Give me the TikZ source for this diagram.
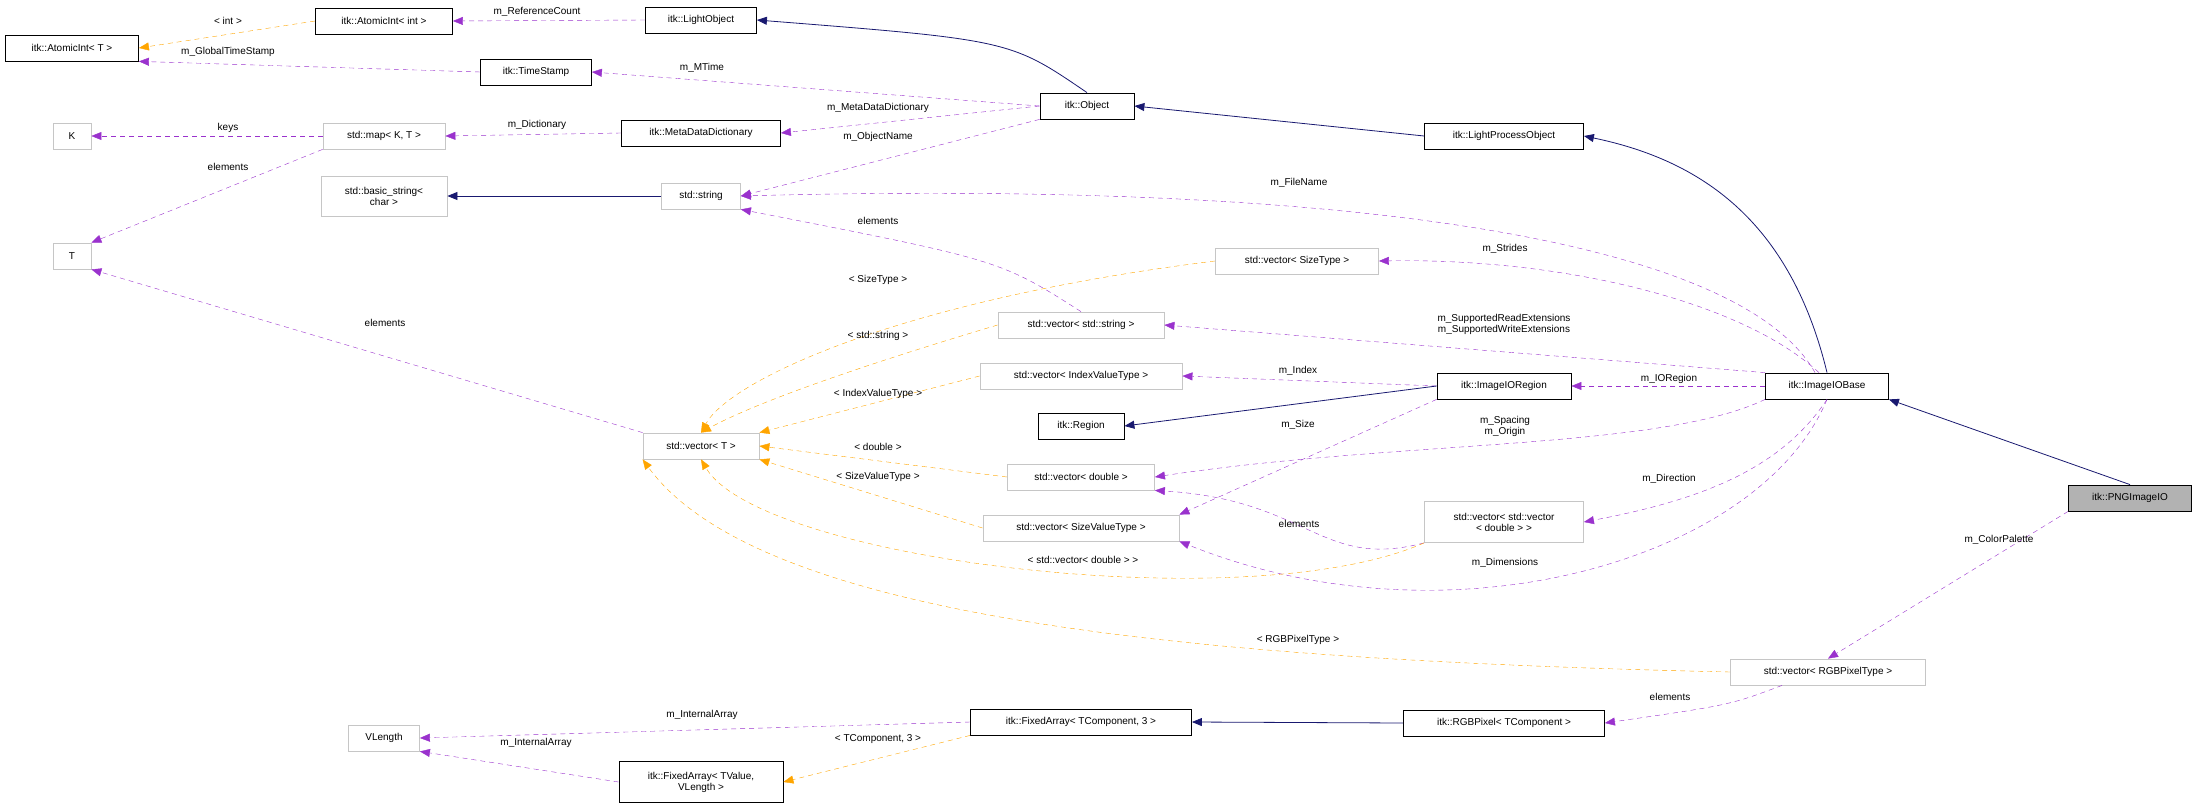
\documentclass[tikz,border=0pt]{standalone}
\usepackage{fontspec}
\setmainfont{Liberation Sans}
\usepackage{xcolor}
\usetikzlibrary{arrows.meta}
\definecolor{edgepurple}{HTML}{9A32CD}
\definecolor{edgeorange}{HTML}{FFA500}
\definecolor{edgenavy}{HTML}{191970}
\begin{document}
\begin{tikzpicture}[x=1pt,y=-1pt]
        % Define styles
        \tikzset{
            cls/.style={rectangle, draw=black, thick, fill=white, inner sep=2pt, minimum height=26pt, font=\fontsize{10}{11}\selectfont, align=center},
            ext/.style={cls, draw=gray!45},
            usage/.style={draw=edgepurple, dashed, dash pattern=on 5pt off 4pt, -{Triangle[length=10pt,width=8pt]}},
            templ/.style={draw=edgeorange, dashed, dash pattern=on 5pt off 4pt, -{Triangle[length=10pt,width=8pt]}},
            inherit/.style={draw=edgenavy, thick, -{Triangle[length=10pt,width=8pt]}},
            lbl/.style={font=\fontsize{10}{11}\selectfont, align=center, inner sep=1pt}
        }
        \useasboundingbox (0,0) rectangle (2197,808);

        % Nodes
        \node[cls, minimum width=133pt] (atomic_t) at (72,48) {itk::AtomicInt< T >};
        \node[cls, minimum width=137pt] (atomic_int) at (384,21) {itk::AtomicInt< int >};
        \node[cls, minimum width=111pt] (light_object) at (701,20) {itk::LightObject};
        \node[cls, minimum width=111pt] (time_stamp) at (536,72) {itk::TimeStamp};
        \node[cls, minimum width=94pt] (object) at (1087,106) {itk::Object};
        \node[cls, minimum width=159pt] (meta_dict) at (701,133) {itk::MetaDataDictionary};
        \node[ext, minimum width=38pt] (k_node) at (72,136) {K};
        \node[ext, minimum width=122pt] (std_map) at (384,136) {std::map< K, T >};
        \node[ext, minimum width=126pt, minimum height=40pt] (basic_string) at (384,196) {std::basic\_string<\\char >};
        \node[ext, minimum width=79pt] (std_string) at (701,196) {std::string};
        \node[ext, minimum width=38pt] (t_node) at (72,256) {T};
        \node[cls, minimum width=159pt] (light_process) at (1504,136) {itk::LightProcessObject};
        \node[ext, minimum width=163pt] (vec_size) at (1297,261) {std::vector< SizeType >};
        \node[ext, minimum width=166pt] (vec_string) at (1081,325) {std::vector< std::string >};
        \node[ext, minimum width=202pt] (vec_index) at (1081,376) {std::vector< IndexValueType >};
        \node[cls, minimum width=134pt] (io_region) at (1504,386) {itk::ImageIORegion};
        \node[cls, minimum width=123pt] (io_base) at (1827,386) {itk::ImageIOBase};
        \node[cls, minimum width=86pt] (region) at (1081,426) {itk::Region};
        \node[ext, minimum width=116pt] (vec_t) at (701,446) {std::vector< T >};
        \node[ext, minimum width=147pt] (vec_double) at (1081,477) {std::vector< double >};
        \node[ext, minimum width=196pt] (vec_size_value) at (1081,528) {std::vector< SizeValueType >};
        \node[ext, minimum width=159pt, minimum height=41pt] (vec_vec) at (1504,522) {std::vector< std::vector\\< double > >};
        \node[cls, minimum width=123pt, fill=gray!60] (png_io) at (2130,498) {itk::PNGImageIO};
        \node[ext, minimum width=195pt] (vec_rgb) at (1828,672) {std::vector< RGBPixelType >};
        \node[ext, minimum width=71pt] (vlength) at (384,738) {VLength};
        \node[cls, minimum width=221pt] (fixed_comp) at (1081,722) {itk::FixedArray< TComponent, 3 >};
        \node[cls, minimum width=201pt] (rgb_pixel) at (1504,723) {itk::RGBPixel< TComponent >};
        \node[cls, minimum width=164pt, minimum height=41pt] (fixed_value) at (701,782) {itk::FixedArray< TValue,\\VLength >};

        % Arrows
        \draw[templ] (atomic_int.west) -- (atomic_t.east);
        \draw[usage] (light_object.west) -- (atomic_int.east);
        \draw[usage] (time_stamp.west) -- (atomic_t.south east);
        \draw[inherit] (object.north) .. controls (1010,40) .. (light_object.east);
        \draw[usage] (object.west) -- (time_stamp.east);
        \draw[usage] (object.west) -- (meta_dict.east);
        \draw[usage] (object.south west) -- (std_string.east);
        \draw[usage] (meta_dict.west) -- (std_map.east);
        \draw[usage] (std_map.west) -- (k_node.east);
        \draw[usage] (std_map.south west) -- (t_node.north east);
        \draw[inherit] (std_string.west) -- (basic_string.east);
        \draw[usage] (vec_string.north) .. controls (1000,260) .. (std_string.south east);
        \draw[usage] (vec_t.north west) -- (t_node.south east);
        \draw[inherit] (light_process.west) -- (object.east);
        \draw[inherit] (io_base.north) .. controls (1790,220) and (1700,160) .. (light_process.east);
        \draw[usage] ([xshift=-12pt]io_base.north) .. controls (1740,240) and (1350,180) .. (std_string.east);
        \draw[usage] ([xshift=-8pt]io_base.north) .. controls (1740,300) and (1560,258) .. (vec_size.east);
        \draw[usage] (io_base.north west) -- (vec_string.east);
        \draw[usage] (io_region.west) -- (vec_index.east);
        \draw[inherit] (io_region.west) -- (region.east);
        \draw[usage] (io_base.west) -- (io_region.east);
        \draw[usage] (io_base.south west) .. controls (1660,450) and (1400,440) .. (vec_double.east);
        \draw[usage] (io_region.south west) -- (vec_size_value.north east);
        \draw[usage] (io_base.south) .. controls (1780,470) and (1700,500) .. (vec_vec.east);
        \draw[usage] (vec_vec.south west) .. controls (1320,570) and (1310,500) .. (vec_double.south east);
        \draw[usage] (io_base.south) .. controls (1760,560) and (1450,650) .. (vec_size_value.south east);
        \draw[inherit] (png_io.north) -- (io_base.south east);
        \draw[usage] (png_io.south west) -- (vec_rgb.north);
        \draw[templ] (vec_rgb.west) .. controls (1200,660) and (760,620) .. (vec_t.south west);
        \draw[templ] (vec_size.west) .. controls (900,300) and (730,380) .. (vec_t.north);
        \draw[templ] (vec_string.west) .. controls (880,360) and (760,400) .. (vec_t.north);
        \draw[templ] (vec_index.west) -- (vec_t.north east);
        \draw[templ] (vec_double.west) -- (vec_t.east);
        \draw[templ] (vec_size_value.west) -- (vec_t.south east);
        \draw[templ] (vec_vec.south west) .. controls (1250,620) and (760,560) .. (vec_t.south);
        \draw[usage] (fixed_comp.west) -- (vlength.east);
        \draw[usage] (fixed_value.west) -- (vlength.south east);
        \draw[templ] (fixed_comp.south west) -- (fixed_value.east);
        \draw[inherit] (rgb_pixel.west) -- (fixed_comp.east);
        \draw[usage] ([xshift=-46pt]vec_rgb.south) .. controls (1730,705) .. (rgb_pixel.east);

        % Labels
        \node[lbl] (l_int) at (228,21) {< int >};
        \node[lbl] (l_refcount) at (537,12) {m\_ReferenceCount};
        \node[lbl] (l_global) at (228,52) {m\_GlobalTimeStamp};
        \node[lbl] (l_mtime) at (702,68) {m\_MTime};
        \node[lbl] (l_metadict) at (878,108) {m\_MetaDataDictionary};
        \node[lbl] (l_objname) at (878,137) {m\_ObjectName};
        \node[lbl] (l_dict) at (537,125) {m\_Dictionary};
        \node[lbl] (l_keys) at (228,128) {keys};
        \node[lbl] (l_elem_map) at (228,167) {elements};
        \node[lbl] (l_elem_str) at (878,221) {elements};
        \node[lbl] (l_elem_vec) at (385,323) {elements};
        \node[lbl] (l_filename) at (1299,183) {m\_FileName};
        \node[lbl] (l_strides) at (1505,249) {m\_Strides};
        \node[lbl] (l_ext) at (1504,324) {m\_SupportedReadExtensions\\m\_SupportedWriteExtensions};
        \node[lbl] (l_index) at (1298,371) {m\_Index};
        \node[lbl] (l_ioregion) at (1669,379) {m\_IORegion};
        \node[lbl] (l_spacing) at (1505,426) {m\_Spacing\\m\_Origin};
        \node[lbl] (l_size) at (1298,425) {m\_Size};
        \node[lbl] (l_direction) at (1669,479) {m\_Direction};
        \node[lbl] (l_elem_vv) at (1299,524) {elements};
        \node[lbl] (l_dims) at (1505,563) {m\_Dimensions};
        \node[lbl] (l_palette) at (1999,540) {m\_ColorPalette};
        \node[lbl] (l_rgbtype) at (1298,640) {< RGBPixelType >};
        \node[lbl] (l_sizetype) at (878,280) {< SizeType >};
        \node[lbl] (l_stdstring) at (878,336) {< std::string >};
        \node[lbl] (l_indextype) at (878,394) {< IndexValueType >};
        \node[lbl] (l_double) at (878,447) {< double >};
        \node[lbl] (l_sizevalue) at (878,477) {< SizeValueType >};
        \node[lbl] (l_vecdouble) at (1083,560) {< std::vector< double > >};
        \node[lbl] (l_internal1) at (702,715) {m\_InternalArray};
        \node[lbl] (l_internal2) at (536,743) {m\_InternalArray};
        \node[lbl] (l_tcomp) at (878,739) {< TComponent, 3 >};
        \node[lbl] (l_elem_rgb) at (1670,697) {elements};
    \end{tikzpicture}
\end{document}
